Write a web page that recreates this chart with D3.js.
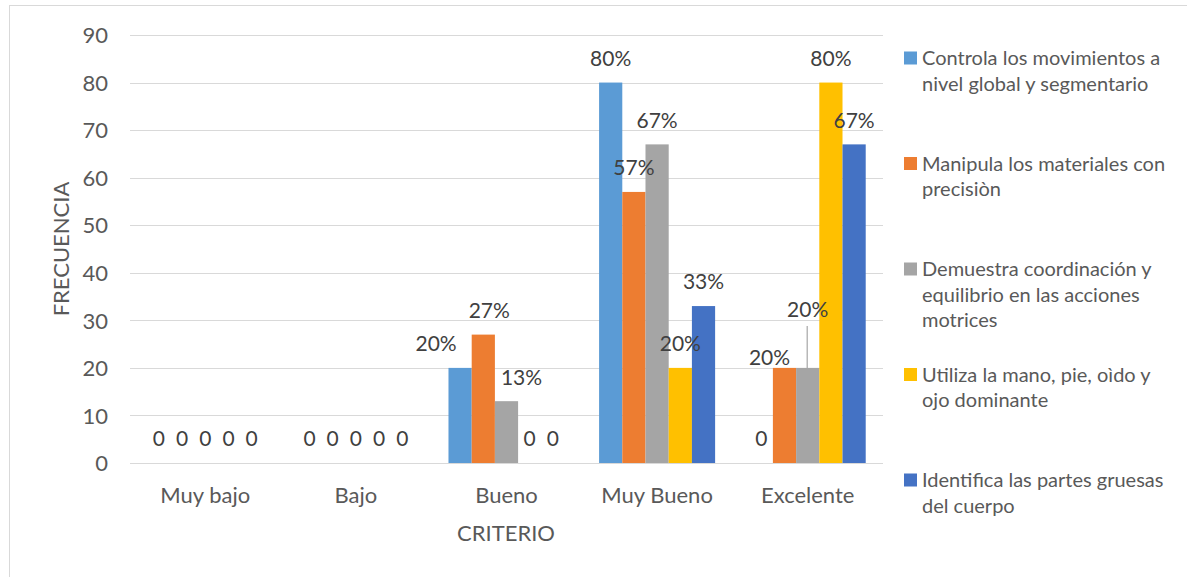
<!DOCTYPE html>
<html><head><meta charset="utf-8">
<script src="https://cdn.jsdelivr.net/npm/d3@7"></script>
<style>body{margin:0;background:#fff;overflow:hidden} text{font-family:Lato, "Open Sans", sans-serif}</style>
</head><body><svg id="c" width="1187" height="577"></svg>
<script>
// ---- data ----
const categories = ["Muy bajo", "Bajo", "Bueno", "Muy Bueno", "Excelente"];
const seriesNames = [
  "Controla los movimientos a nivel global y segmentario",
  "Manipula los materiales con precisiòn",
  "Demuestra coordinación y equilibrio en las acciones motrices",
  "Utiliza la mano, pie, oìdo y ojo dominante",
  "Identifica las partes gruesas del cuerpo"
];
const legendLines = [
  ["Controla los movimientos a", "nivel global y segmentario"],
  ["Manipula los materiales con", "precisiòn"],
  ["Demuestra coordinación y", "equilibrio en las acciones", "motrices"],
  ["Utiliza la mano, pie, oìdo y", "ojo dominante"],
  ["Identifica las partes gruesas", "del cuerpo"]
];
const controla   = [0, 0, 20, 80, 0];
const manipula   = [0, 0, 27, 57, 20];
const demuestra  = [0, 0, 13, 67, 20];
const utiliza    = [0, 0, 0, 20, 80];
const identifica = [0, 0, 0, 33, 67];
const yTicks = [0, 10, 20, 30, 40, 50, 60, 70, 80, 90];
const seriesColors = ["#5B9BD5", "#ED7D31", "#A5A5A5", "#FFC000", "#4472C4"];

// ---- layout / styling ----
const seriesValues = [controla, manipula, demuestra, utiliza, identifica];
const plot = {left: 130, right: 883, top: 35, bottom: 463};
// manual label nudges (series index, category index)
const labelNudges = [
  {s: 0, c: 2, dx: -24, dy: 0},
  {s: 1, c: 2, dx: 6, dy: 0},
  {s: 2, c: 2, dx: 15, dy: 0},
  {s: 1, c: 4, dx: -15, dy: 14},
  {s: 2, c: 4, dx: 0, dy: -34, leader: true}
];

const svg = d3.select("#c");
svg.append("rect").attr("x", 9.5).attr("y", 5.5).attr("width", 1200).attr("height", 620)
  .attr("fill", "#fff").attr("stroke", "#d9d9d9").attr("stroke-width", 1);

const y = d3.scaleLinear().domain([0, 90]).range([plot.bottom, plot.top]);
const x0 = d3.scaleBand().domain(categories).range([plot.left, plot.right]).padding(0);
const x1 = d3.scaleBand().domain(d3.range(seriesNames.length)).range([0, x0.bandwidth()])
  .paddingInner(0).paddingOuter(0.745);

// gridlines
svg.append("g").selectAll("line").data(yTicks).join("line")
  .attr("x1", plot.left).attr("x2", plot.right)
  .attr("y1", d => Math.round(y(d)) + 0.5).attr("y2", d => Math.round(y(d)) + 0.5)
  .attr("stroke", "#d9d9d9").attr("stroke-width", 1.2);

// y axis labels
const yAxis = d3.axisLeft(y).tickValues(yTicks).tickSize(0).tickPadding(0);
const gy = svg.append("g").attr("transform", `translate(108,0)`).call(yAxis);
gy.select(".domain").remove();
gy.selectAll("text").attr("font-size", 22).attr("fill", "#595959")
  .attr("font-family", "Lato, sans-serif").attr("dy", "0.35em");

// x axis labels
const xAxis = d3.axisBottom(x0).tickSize(0).tickPadding(0);
const gx = svg.append("g").attr("transform", `translate(0,495)`).call(xAxis);
gx.select(".domain").remove();
gx.selectAll("text").attr("font-size", 22).attr("fill", "#595959")
  .attr("font-family", "Lato, sans-serif").attr("dy", "0.35em");

// bars
const flat = [];
seriesValues.forEach((vals, s) => vals.forEach((v, c) => flat.push({s, c, v})));
svg.append("g").selectAll("rect").data(flat).join("rect")
  .attr("x", d => x0(categories[d.c]) + x1(d.s))
  .attr("width", x1.bandwidth())
  .attr("y", d => y(d.v))
  .attr("height", d => y(0) - y(d.v))
  .attr("fill", d => seriesColors[d.s]);

// data labels
const nud = (d) => labelNudges.find(n => n.s === d.s && n.c === d.c) || {dx: 0, dy: 0};
const lab = svg.append("g");
flat.forEach(d => {
  const n = nud(d);
  const cx = x0(categories[d.c]) + x1(d.s) + x1.bandwidth() / 2 + n.dx;
  const cy = y(d.v) - 24 + n.dy;
  lab.append("text").attr("x", cx).attr("y", cy).attr("dy", "0.35em")
    .attr("text-anchor", "middle").attr("font-size", 21).attr("fill", "#404040")
    .text(d.v === 0 ? "0" : d.v + "%");
  if (n.leader) {
    lab.append("line").attr("x1", cx - 0.5).attr("x2", cx - 0.5)
      .attr("y1", cy + 16).attr("y2", y(d.v))
      .attr("stroke", "#a6a6a6").attr("stroke-width", 1.2);
  }
});

// axis titles
svg.append("text").attr("transform", "translate(61,249) rotate(-90)")
  .attr("text-anchor", "middle").attr("dy", "0.35em").attr("font-size", 22)
  .attr("fill", "#595959").text("FRECUENCIA");
svg.append("text").attr("x", 506).attr("y", 533).attr("dy", "0.35em")
  .attr("text-anchor", "middle").attr("font-size", 22).attr("fill", "#595959").text("CRITERIO");

// legend
const leg = svg.append("g");
const legTop = 58, legStep = 105.5, lineH = 25.7;
seriesNames.forEach((name, i) => {
  const ly = legTop + i * legStep;
  leg.append("rect").attr("x", 904).attr("y", ly - 6.5).attr("width", 13).attr("height", 13)
    .attr("fill", seriesColors[i]);
  const t = leg.append("text").attr("font-size", 20).attr("fill", "#595959");
  legendLines[i].forEach((ln, k) => {
    t.append("tspan").attr("x", 922).attr("y", ly + k * lineH).attr("dy", "0.35em").text(ln);
  });
});
</script></body></html>
